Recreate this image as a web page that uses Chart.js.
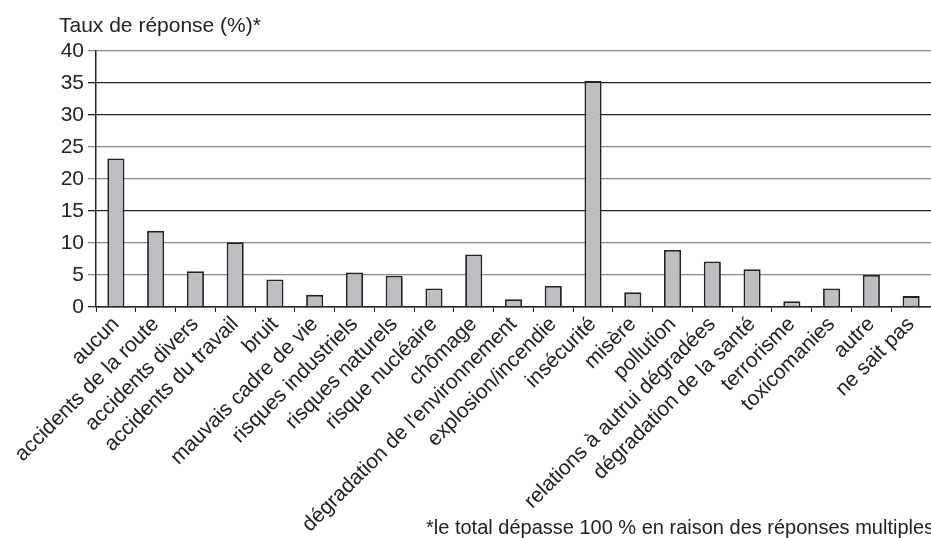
<!DOCTYPE html>
<html>
<head>
<meta charset="utf-8">
<script src="https://cdn.jsdelivr.net/npm/chart.js@4"></script>
<style>
html,body{margin:0;padding:0;background:#fff;}
#wrap{width:931px;height:538px;position:relative;}
</style>
</head>
<body>
<div id="wrap"><canvas id="c" width="931" height="538"></canvas></div>
<script>
const categories = ["aucun","accidents de la route","accidents divers","accidents du travail","bruit","mauvais cadre de vie","risques industriels","risques naturels","risque nucléaire","chômage","dégradation de l'environnement","explosion/incendie","insécurité","misère","pollution","relations à autrui dégradées","dégradation de la santé","terrorisme","toxicomanies","autre","ne sait pas"];
const values = [23.2,11.9,5.6,10.1,4.3,1.9,5.4,4.9,2.9,8.2,1.2,3.3,35.3,2.3,8.9,7.1,5.9,0.9,2.9,5.0,1.7];
const yTicks = [0,5,10,15,20,25,30,35,40];
const axisTitle = "Taux de réponse (%)*";
const footnote = "*le total dépasse 100 % en raison des réponses multiples";

const FONT = "'Liberation Sans', Arial, sans-serif";
const gridColors = {0:"#222",5:"#888",10:"#888",15:"#222",20:"#888",25:"#888",30:"#222",35:"#222",40:"#888"};

const textPlugin = {
  id: 'texts',
  afterDraw(chart) {
    const ctx = chart.ctx;
    ctx.save();
    ctx.fillStyle = '#222';
    ctx.textBaseline = 'alphabetic';
    ctx.textAlign = 'left';
    ctx.font = '21px ' + FONT;
    ctx.fillText(axisTitle, 59, 32);
    ctx.font = '20px ' + FONT;
    ctx.fillText(footnote, 426, 534);
    ctx.restore();
  }
};

new Chart(document.getElementById('c'), {
  type: 'bar',
  data: {
    labels: categories,
    datasets: [{
      data: values,
      backgroundColor: '#bdbec2',
      borderColor: '#222',
      borderWidth: 1.8,
      categoryPercentage: 1,
      barPercentage: 0.43
    }]
  },
  options: {
    responsive: false,
    animation: false,
    devicePixelRatio: 1,
    layout: { padding: { top: 51, right: 0, left: 0, bottom: 0 } },
    plugins: { legend: { display: false }, tooltip: { enabled: false } },
    scales: {
      x: {
        offset: true,
        afterFit(scale) { scale.height = 231; },
        grid: { display: true, drawOnChartArea: false, offset: true, tickLength: 5, color: '#222', lineWidth: 1 },
        border: { display: true, color: '#222', width: 1.5 },
        ticks: {
          autoSkip: false, maxRotation: 45, minRotation: 45,
          color: '#222', font: { size: 21, family: FONT }, padding: 0
        }
      },
      y: {
        min: 0, max: 40,
        afterFit(scale) { scale.width = 96; },
        afterBuildTicks(scale) { scale.ticks = yTicks.map(v => ({ value: v })); },
        grid: {
          tickLength: 8,
          color: ctx => gridColors[ctx.tick ? ctx.tick.value : 0] || '#555',
          lineWidth: 1.3
        },
        border: { display: true, color: '#222', width: 1.5 },
        ticks: { color: '#222', font: { size: 21, family: FONT }, padding: 4 }
      }
    }
  },
  plugins: [textPlugin]
});
</script>
</body>
</html>
